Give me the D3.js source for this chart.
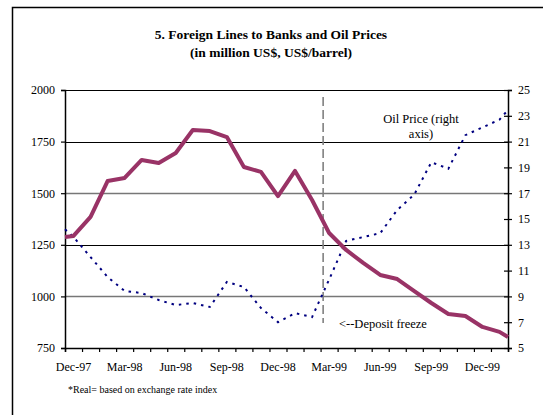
<!DOCTYPE html>
<html>
<head>
<meta charset="utf-8">
<script src="https://cdn.jsdelivr.net/npm/d3@7"></script>
<style>
  body { margin: 0; background: #fff; }
</style>
</head>
<body>
<div id="chart"></div>
<script>
// monthly categories on the x axis
const months = ["Dec-97","Jan-98","Feb-98","Mar-98","Apr-98","May-98","Jun-98","Jul-98","Aug-98",
  "Sep-98","Oct-98","Nov-98","Dec-98","Jan-99","Feb-99","Mar-99","Apr-99","May-99","Jun-99",
  "Jul-99","Aug-99","Sep-99","Oct-99","Nov-99","Dec-99","Jan-00"];

// foreign lines to banks, million US$ (left axis)
const foreignLines = [1293,1385,1559,1574,1661,1646,1695,1806,1801,1772,1627,1603,1486,1608,
  1467,1307,1225,1162,1104,1084,1026,968,915,905,852,828];
const foreignEdges = [1288, 803];   // values at the left / right edge of the plot

// oil price, US$/barrel (right axis)
const oilPrice = [13.6,12.05,10.5,9.42,9.26,8.72,8.33,8.49,8.18,10.12,9.73,8.1,7.0,7.7,7.4,
  10.3,13.3,13.6,13.9,15.7,16.9,19.4,18.9,21.5,22.1,22.7];
const oilEdges = [14.2, 23.45];

const leftTicks = [750,1000,1250,1500,1750,2000];
const rightTicks = [5,7,9,11,13,15,17,19,21,23,25];
const freezeAt = 15.15;   // deposit freeze, in month units from Dec-97

const FONT = '"Liberation Serif", "Times New Roman", Times, serif';
const W = 543, H = 415;
const margin = {left: 65, right: 35, top: 90, bottom: 67};

const svg = d3.select('#chart').append('svg')
    .attr('width', W).attr('height', H)
    .attr('viewBox', `0 0 ${W} ${H}`)
    .style('font-family', FONT);

svg.append('rect').attr('width', W).attr('height', H).attr('fill', '#fff');
// outer frame (right and bottom edges run off the picture)
svg.append('rect')
    .attr('x', 12.5).attr('y', 7.5).attr('width', 560).attr('height', 440)
    .attr('fill', 'none').attr('stroke', '#000').attr('stroke-width', 1.5);

const txt = (sel) => sel.style('font-family', FONT).attr('fill', '#000');

svg.append('text').attr('x', 271).attr('y', 39)
    .attr('text-anchor', 'middle').attr('font-weight', 'bold').attr('font-size', 13.5)
    .call(txt).text('5. Foreign Lines to Banks and Oil Prices');
svg.append('text').attr('x', 271).attr('y', 57)
    .attr('text-anchor', 'middle').attr('font-weight', 'bold').attr('font-size', 13.5)
    .call(txt).text('(in million US$, US$/barrel)');

const x = d3.scaleLinear().domain([0, months.length]).range([margin.left, W - margin.right]);
const yL = d3.scaleLinear().domain([750, 2000]).range([H - margin.bottom, margin.top]);
const yR = d3.scaleLinear().domain([5, 25]).range([H - margin.bottom, margin.top]);

// gridlines: 1000 and 1500 come out grey in the original, the others black
const greyGrid = [1000, 1500];
svg.append('g').selectAll('line')
    .data(leftTicks.filter(d => d > 750))
    .join('line')
    .attr('x1', x(0)).attr('x2', x(months.length))
    .attr('y1', d => Math.round(yL(d)) + 0.5).attr('y2', d => Math.round(yL(d)) + 0.5)
    .attr('stroke', d => greyGrid.includes(d) ? '#777' : '#000')
    .attr('stroke-width', d => greyGrid.includes(d) ? 1.6 : 1);

// axes
const gLeft = svg.append('g')
    .attr('transform', `translate(${x(0)},0)`)
    .call(d3.axisLeft(yL).tickValues(leftTicks).tickSize(4).tickPadding(6).tickFormat(d3.format('d')));
const gRight = svg.append('g')
    .attr('transform', `translate(${x(months.length)},0)`)
    .call(d3.axisRight(yR).tickValues(rightTicks).tickSize(4).tickPadding(6));
gRight.selectAll('.tick line').attr('x1', -4);
const gBottom = svg.append('g')
    .attr('transform', `translate(0,${yL(750)})`)
    .call(d3.axisBottom(x).tickValues(d3.range(months.length + 1)).tickSize(4).tickFormat(''));

[gLeft, gRight, gBottom].forEach(g => {
  g.attr('font-family', null);
  g.select('.domain').attr('stroke', '#000').attr('stroke-width', 1.5);
  g.selectAll('.tick line').attr('stroke', '#000').attr('stroke-width', 1.2);
  g.selectAll('text').call(txt).attr('font-size', 12);
});

// month labels every quarter, centred in their category
svg.append('g').selectAll('text')
    .data(months.map((m, i) => ({m, i})).filter(d => d.i % 3 === 0))
    .join('text')
    .attr('x', d => x(d.i + 0.5)).attr('y', yL(750) + 23)
    .attr('text-anchor', 'middle').attr('font-size', 12)
    .call(txt).text(d => d.m);

// deposit freeze marker
svg.append('line')
    .attr('x1', x(freezeAt)).attr('x2', x(freezeAt))
    .attr('y1', 97).attr('y2', 323)
    .attr('stroke', '#808080').attr('stroke-width', 1.6)
    .attr('stroke-dasharray', '9,4');

const series = (vals, edges) => [
  {x: 0, v: edges[0]},
  ...vals.map((v, i) => ({x: i + 0.5, v})),
  {x: months.length, v: edges[1]}
];

svg.append('path')
    .datum(series(oilPrice, oilEdges))
    .attr('d', d3.line().x(d => x(d.x)).y(d => yR(d.v)))
    .attr('fill', 'none').attr('stroke', '#000080').attr('stroke-width', 2)
    .attr('stroke-dasharray', '2.5,5');

svg.append('path')
    .datum(series(foreignLines, foreignEdges))
    .attr('d', d3.line().x(d => x(d.x)).y(d => yL(d.v)))
    .attr('fill', 'none').attr('stroke', '#993366').attr('stroke-width', 4)
    .attr('stroke-linejoin', 'round');

// annotations
svg.append('text').attr('x', 421).attr('y', 123).attr('text-anchor', 'middle').attr('font-size', 12.5)
    .call(txt).text('Oil Price (right');
svg.append('text').attr('x', 421).attr('y', 138).attr('text-anchor', 'middle').attr('font-size', 12.5)
    .call(txt).text('axis)');
svg.append('text').attr('x', 339).attr('y', 328).attr('font-size', 12.5)
    .call(txt).text('<--Deposit freeze');

svg.append('text').attr('x', 68).attr('y', 393).attr('font-size', 10)
    .call(txt).text('*Real= based on exchange rate index');
</script>
</body>
</html>
